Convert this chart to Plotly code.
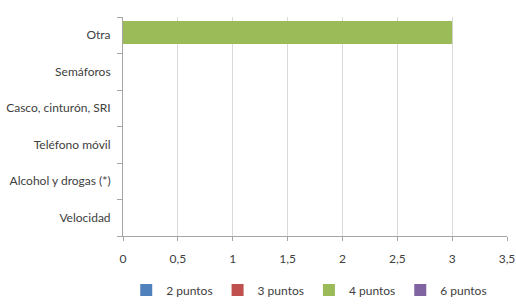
import plotly.graph_objects as go

categories = ["Velocidad", "Alcohol y drogas (*)", "Teléfono móvil",
              "Casco, cinturón, SRI", "Semáforos", "Otra"]
series_names = ["2 puntos", "3 puntos", "4 puntos", "6 puntos"]
v2 = [0, 0, 0, 0, 0, 0]
v3 = [0, 0, 0, 0, 0, 0]
v4 = [0, 0, 0, 0, 0, 3]
v6 = [0, 0, 0, 0, 0, 0]
colors = ["#4F81BD", "#C0504D", "#9BBB59", "#8064A2"]
x_ticks = [0, 0.5, 1, 1.5, 2, 2.5, 3, 3.5]
x_tick_labels = ["0", "0,5", "1", "1,5", "2", "2,5", "3", "3,5"]

fig = go.Figure()
for name, vals, col in zip(series_names, [v2, v3, v4, v6], colors):
    fig.add_trace(go.Bar(
        y=categories, x=vals, name=name, orientation="h",
        marker=dict(color=col, line=dict(width=0)),
        width=0.63, offset=-0.24,
    ))

font_family = "Lato, 'Open Sans', sans-serif"
fig.update_layout(
    width=516, height=304,
    margin=dict(l=123, r=9, t=17, b=68, autoexpand=False),
    paper_bgcolor="white", plot_bgcolor="white",
    barmode="overlay",
    font=dict(family=font_family, size=12, color="#404040"),
    showlegend=True,
    legend=dict(orientation="h", x=0.485, xanchor="center", y=-0.247, yanchor="middle",
                font=dict(size=12, color="#404040"), itemwidth=30,
                traceorder="normal", tracegroupgap=0),
    xaxis=dict(range=[0, 3.5], tickvals=x_ticks, ticktext=x_tick_labels,
               showgrid=True, gridcolor="#D9D9D9", gridwidth=1,
               showline=True, linecolor="#A6A6A6", linewidth=1,
               ticks="outside", ticklen=4, tickcolor="#A6A6A6",
               ticklabelstandoff=8, automargin=False,
               zeroline=False, fixedrange=True),
    yaxis=dict(categoryorder="array", categoryarray=categories,
               tickson="boundaries", ticks="outside", ticklen=5, tickcolor="#A6A6A6",
               showline=True, linecolor="#A6A6A6", linewidth=1,
               ticklabelstandoff=9, automargin=False,
               showgrid=False, zeroline=False, fixedrange=True),
)

fig.write_html("out.html", config={"displayModeBar": False},
               post_script="document.body.style.margin='0';document.body.style.overflow='hidden';")
